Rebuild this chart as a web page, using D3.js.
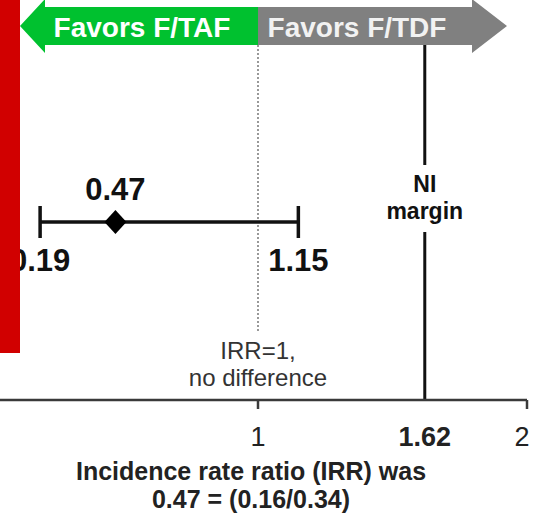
<!DOCTYPE html>
<html>
<head>
<meta charset="utf-8">
<script src="https://cdn.jsdelivr.net/npm/d3@7"></script>
<style>
  body { margin: 0; background: #fff; }
  svg { display: block; font-family: "Liberation Sans", Arial, sans-serif; }
</style>
</head>
<body>
<div id="chart"></div>
<script>
// Data
const estimate = [0.47];
const ciBounds = [0.19, 1.15];
const nullValue = 1;
const niMargin = 1.62;
const tickValues = [1, 1.62, 2];
const headerLabels = ["Favors F/TAF", "Favors F/TDF"];
const titleLines = ["Incidence rate ratio (IRR) was", "0.47 = (0.16/0.34)"];
const nullLabel = ["IRR=1,", "no difference"];
const niLabel = ["NI", "margin"];

const width = 538, height = 519;
const axisY = 400;
const ciY = 222;

const svg = d3.select("#chart")
    .append("svg")
    .attr("width", width)
    .attr("height", height);

// X scale (linear IRR)
const x = d3.scaleLinear()
    .domain([1, 2])
    .range([258, 527]);

// Header arrows
const midY = 26, bodyH = 19, headH = 27;
const leftTip = 20, leftBack = 45, rightBack = 472, rightTip = 507;
const xm = x(nullValue);

svg.append("path")
    .attr("d", d3.line()([
        [xm, midY - bodyH], [leftBack, midY - bodyH], [leftBack, midY - headH],
        [leftTip, midY], [leftBack, midY + headH], [leftBack, midY + bodyH], [xm, midY + bodyH]
    ]) + "Z")
    .attr("fill", "#00c12f");

svg.append("path")
    .attr("d", d3.line()([
        [xm, midY - bodyH], [rightBack, midY - bodyH], [rightBack, midY - headH],
        [rightTip, midY], [rightBack, midY + headH], [rightBack, midY + bodyH], [xm, midY + bodyH]
    ]) + "Z")
    .attr("fill", "#808080");

svg.append("text")
    .attr("x", 142)
    .attr("y", 37)
    .attr("text-anchor", "middle")
    .attr("fill", "#ffffff")
    .style("font-size", "28px")
    .style("font-weight", "bold")
    .text(headerLabels[0]);

svg.append("text")
    .attr("x", 357)
    .attr("y", 37)
    .attr("text-anchor", "middle")
    .attr("fill", "#f2f2f2")
    .style("font-size", "28px")
    .style("font-weight", "bold")
    .text(headerLabels[1]);

// Null line (dotted)
svg.append("line")
    .attr("x1", x(nullValue)).attr("x2", x(nullValue))
    .attr("y1", midY + bodyH).attr("y2", 332)
    .attr("stroke", "#555")
    .attr("stroke-width", 1.2)
    .attr("stroke-dasharray", "2,2");

nullLabel.forEach((t, i) => {
    svg.append("text")
        .attr("x", x(nullValue))
        .attr("y", 359 + i * 27)
        .attr("text-anchor", "middle")
        .attr("fill", "#333")
        .style("font-size", "24px")
        .text(t);
});

// NI margin line
svg.append("line")
    .attr("x1", x(niMargin)).attr("x2", x(niMargin))
    .attr("y1", midY + bodyH).attr("y2", axisY)
    .attr("stroke", "#111")
    .attr("stroke-width", 3);

svg.append("rect")
    .attr("x", x(niMargin) - 44)
    .attr("y", 165)
    .attr("width", 88)
    .attr("height", 67)
    .attr("fill", "#fff");

niLabel.forEach((t, i) => {
    svg.append("text")
        .attr("x", x(niMargin))
        .attr("y", 192 + i * 27)
        .attr("text-anchor", "middle")
        .attr("fill", "#111")
        .style("font-size", "23px")
        .style("font-weight", "bold")
        .text(t);
});

// Confidence interval
svg.append("line")
    .attr("x1", x(ciBounds[0])).attr("x2", x(ciBounds[1]))
    .attr("y1", ciY).attr("y2", ciY)
    .attr("stroke", "#111")
    .attr("stroke-width", 3.5);

ciBounds.forEach(v => {
    svg.append("line")
        .attr("x1", x(v)).attr("x2", x(v))
        .attr("y1", ciY - 16).attr("y2", ciY + 16)
        .attr("stroke", "#111")
        .attr("stroke-width", 3.5);

    svg.append("text")
        .attr("x", x(v))
        .attr("y", 271)
        .attr("text-anchor", "middle")
        .attr("fill", "#111")
        .style("font-size", "31px")
        .style("font-weight", "bold")
        .text(v.toFixed(2));
});

// Point estimate diamond
const dw = 11, dh = 12;
svg.selectAll(".est")
    .data(estimate)
    .enter()
    .append("path")
    .attr("class", "est")
    .attr("d", `M0,${-dh}L${dw},0L0,${dh}L${-dw},0Z`)
    .attr("transform", d => `translate(${x(d)},${ciY})`)
    .attr("fill", "#000");

svg.selectAll(".estLabel")
    .data(estimate)
    .enter()
    .append("text")
    .attr("x", d => x(d))
    .attr("y", 200)
    .attr("text-anchor", "middle")
    .attr("fill", "#111")
    .style("font-size", "31px")
    .style("font-weight", "bold")
    .text(d => d.toFixed(2));

// Axis
const axis = svg.append("g")
    .attr("transform", `translate(0,${axisY})`);

axis.append("line")
    .attr("x1", 0).attr("x2", x(2))
    .attr("y1", 0).attr("y2", 0)
    .attr("stroke", "#3a3a3a")
    .attr("stroke-width", 2.5);

axis.selectAll(".tickLine")
    .data(tickValues.filter(d => d !== niMargin))
    .enter()
    .append("line")
    .attr("x1", d => x(d)).attr("x2", d => x(d))
    .attr("y1", 0).attr("y2", 9)
    .attr("stroke", "#3a3a3a")
    .attr("stroke-width", 2.5);

axis.selectAll(".tickLabel")
    .data(tickValues)
    .enter()
    .append("text")
    .attr("x", d => x(d) - (d === 2 ? 5 : 0))
    .attr("y", 46)
    .attr("text-anchor", "middle")
    .attr("fill", "#222")
    .style("font-size", "27px")
    .style("font-weight", d => d === niMargin ? "bold" : "normal")
    .text(d => d3.format("")(d));

// Title
titleLines.forEach((t, i) => {
    svg.append("text")
        .attr("x", 251)
        .attr("y", 480 + i * 28)
        .attr("text-anchor", "middle")
        .attr("fill", "#222")
        .style("font-size", "25px")
        .style("font-weight", "bold")
        .text(t);
});

// Red side bar
svg.append("rect")
    .attr("x", 0).attr("y", 0)
    .attr("width", 20).attr("height", 353)
    .attr("fill", "#d10000");
</script>
</body>
</html>
